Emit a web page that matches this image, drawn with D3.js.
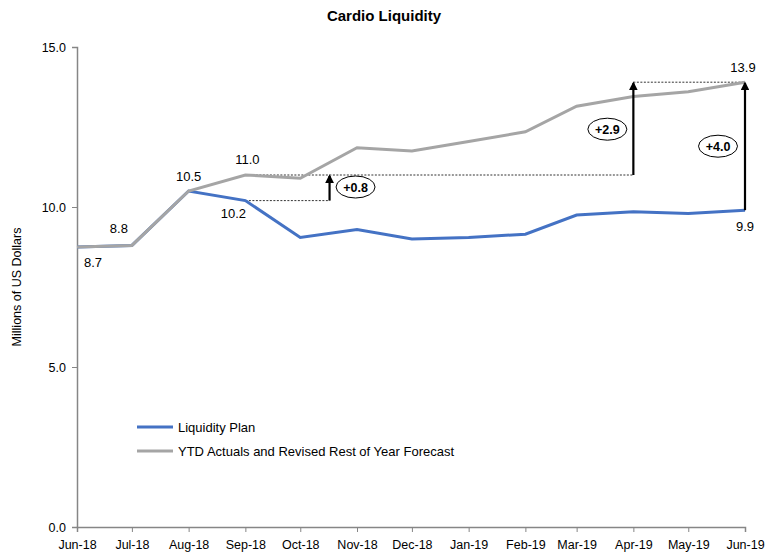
<!DOCTYPE html>
<html>
<head>
<meta charset="utf-8">
<script src="https://cdn.jsdelivr.net/npm/d3@7"></script>
<style>
  body { margin: 0; background: #fff; }
  svg { font-family: "Liberation Sans", Arial, sans-serif; }
</style>
</head>
<body>
<svg id="chart" width="778" height="555"></svg>
<script>
// data
const months = ['2018-06','2018-07','2018-08','2018-09','2018-10','2018-11','2018-12',
                '2019-01','2019-02','2019-03','2019-04','2019-05','2019-06']
const planValues = [8.75, 8.8, 10.5, 10.2, 9.05, 9.3, 9.0, 9.05, 9.15, 9.75, 9.85, 9.8, 9.9]
const actualValues = [8.75, 8.8, 10.5, 11.0, 10.9, 11.85, 11.75, 12.05, 12.35, 13.15, 13.45, 13.6, 13.9]
const yTicks = [0, 5, 10, 15]
const seriesNames = ['Liquidity Plan', 'YTD Actuals and Revised Rest of Year Forecast']
const colors = ['#4472C4', '#A5A5A5']

// point labels: [series, month index, text]
const pointLabels = [
  ['actual', 0, '8.7'], ['actual', 1, '8.8'], ['actual', 2, '10.5'],
  ['actual', 3, '11.0'], ['plan', 3, '10.2'], ['actual', 12, '13.9'], ['plan', 12, '9.9']
]
// variance arrows: date where arrow stands, from value, to value, label
const arrows = [
  { at: '2018-10-17', from: 10.2, to: 11.0, text: '+0.8' },
  { at: '2019-04', from: 11.0, to: 13.9, text: '+2.9' },
  { at: '2019-06', from: 9.9, to: 13.9, text: '+4.0' }
]
// dotted guide lines: from date, to date, value
const guides = [
  ['2018-09', '2018-10-17', 10.2],
  ['2018-09', '2019-04', 11.0],
  ['2019-04', '2019-06', 13.9]
]

const parse = d3.timeParse('%Y-%m')
const parseDay = d3.timeParse('%Y-%m-%d')
const toDate = s => s.length > 7 ? parseDay(s) : parse(s)

const svg = d3.select('#chart')
const margin = { left: 77, right: 33, top: 47, bottom: 28 }
const width = 778, height = 555

const x = d3.scaleTime()
  .domain([toDate(months[0]), toDate(months[months.length - 1])])
  .range([margin.left, width - margin.right])
const y = d3.scaleLinear().domain([0, 15]).range([height - margin.bottom, margin.top])

const axisColor = '#868686'

// title
svg.append('text').attr('x', 384).attr('y', 21).attr('text-anchor', 'middle')
  .attr('font-size', 15).attr('font-weight', 'bold').text('Cardio Liquidity')

// y axis
const yAxis = svg.append('g').attr('transform', `translate(${margin.left},0)`)
  .call(d3.axisLeft(y).tickValues(yTicks).tickFormat(d3.format('.1f')).tickSize(5))
yAxis.select('.domain').attr('stroke', axisColor).attr('stroke-width', 1.5)
yAxis.selectAll('.tick line').attr('stroke', axisColor)
yAxis.selectAll('.tick text').attr('font-size', 12.5).attr('fill', '#000')
  .attr('font-family', 'inherit').attr('dx', -3)

// x axis
const xAxis = svg.append('g').attr('transform', `translate(0,${y(0)})`)
  .call(d3.axisBottom(x).tickValues(months.map(parse)).tickFormat(d3.timeFormat('%b-%y')).tickSize(5))
xAxis.select('.domain').attr('stroke', axisColor).attr('stroke-width', 1.5)
xAxis.selectAll('.tick line').attr('stroke', axisColor)
xAxis.selectAll('.tick text').attr('font-size', 12.5).attr('fill', '#000')
  .attr('font-family', 'inherit').attr('dy', '1.15em')

// y axis title
svg.append('text').attr('transform', `translate(21,${y(7.5)}) rotate(-90)`)
  .attr('text-anchor', 'middle').attr('font-size', 12.5).text('Millions of US Dollars')

// guides
svg.selectAll('.guide').data(guides).enter().append('line')
  .attr('class', 'guide')
  .attr('x1', d => x(toDate(d[0]))).attr('x2', d => x(toDate(d[1])))
  .attr('y1', d => y(d[2])).attr('y2', d => y(d[2]))
  .attr('stroke', '#333').attr('stroke-width', 1).attr('stroke-dasharray', '2,1.5')

// lines
const line = d3.line().x((d, i) => x(parse(months[i]))).y(d => y(d))
svg.append('path').datum(planValues).attr('d', line)
  .attr('fill', 'none').attr('stroke', colors[0]).attr('stroke-width', 3)
svg.append('path').datum(actualValues).attr('d', line)
  .attr('fill', 'none').attr('stroke', colors[1]).attr('stroke-width', 3)

// arrows
const defs = svg.append('defs')
defs.append('marker').attr('id', 'head').attr('viewBox', '0 0 10 10')
  .attr('refX', 8).attr('refY', 5).attr('markerWidth', 4).attr('markerHeight', 4)
  .attr('orient', 'auto')
  .append('path').attr('d', 'M0,0 L10,5 L0,10 z').attr('fill', '#000')

arrows.forEach(a => {
  const ax = x(toDate(a.at))
  svg.append('line').attr('x1', ax).attr('x2', ax)
    .attr('y1', y(a.from)).attr('y2', y(a.to) + 1)
    .attr('stroke', '#000').attr('stroke-width', 2.2).attr('marker-end', 'url(#head)')
})

// variance bubbles next to their arrows: [dx from arrow, dy from arrow top]
const bubbleOffsets = [[26, 12], [-26, 47], [-27, 64]]
arrows.forEach((a, i) => {
  const bx = x(toDate(a.at)) + bubbleOffsets[i][0]
  const by = y(a.to) + bubbleOffsets[i][1]
  const g = svg.append('g').attr('transform', `translate(${bx},${by})`)
  g.append('ellipse').attr('rx', 19.5).attr('ry', 11)
    .attr('fill', '#fff').attr('stroke', '#000').attr('stroke-width', 1)
  g.append('text').attr('text-anchor', 'middle').attr('dy', '0.36em')
    .attr('font-size', 12.5).attr('font-weight', 'bold').text(a.text)
})

// point labels
const labelPos = {
  '8.7': [16, 20], '8.8': [-13, -12], '10.5': [0, -10], '11.0': [2, -11],
  '10.2': [-12, 17], '13.9': [-2, -10], '9.9': [0, 21]
}
pointLabels.forEach(([s, i, t]) => {
  const v = s === 'plan' ? planValues[i] : actualValues[i]
  const [dx, dy] = labelPos[t]
  svg.append('text').attr('x', x(parse(months[i])) + dx).attr('y', y(v) + dy)
    .attr('text-anchor', 'middle').attr('font-size', 13).text(t)
})

// legend
const legend = svg.append('g').attr('transform', 'translate(137,427)')
seriesNames.forEach((name, i) => {
  const g = legend.append('g').attr('transform', `translate(0,${i * 24})`)
  g.append('line').attr('x1', 0).attr('x2', 36).attr('stroke', colors[i]).attr('stroke-width', 3)
  g.append('text').attr('x', 41).attr('dy', '0.35em').attr('font-size', 13).text(name)
})
</script>
</body>
</html>
